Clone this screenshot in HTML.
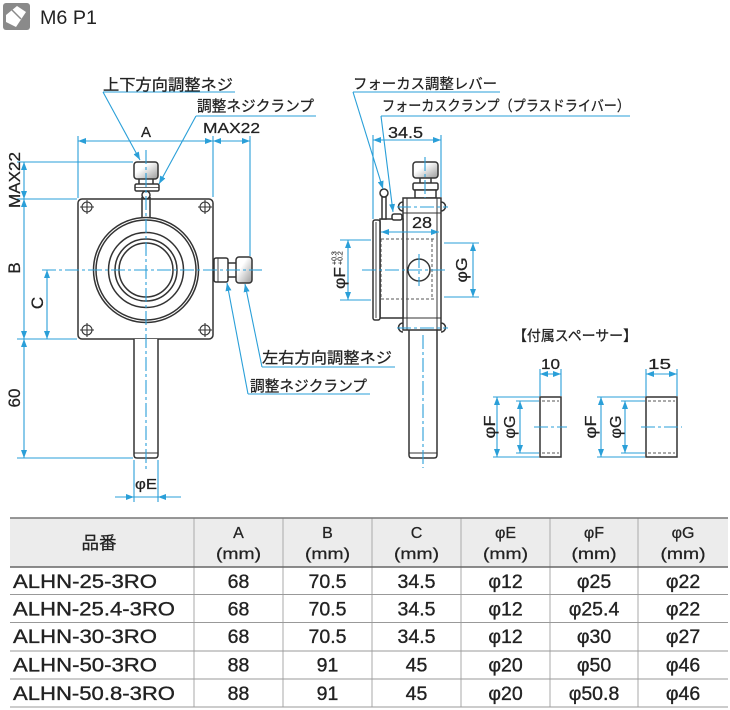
<!DOCTYPE html>
<html><head><meta charset="utf-8"><style>
html,body{margin:0;padding:0;background:#fff;}
svg{display:block;font-family:"Liberation Sans","Noto Sans CJK JP",sans-serif;}
</style></head><body>
<svg width="730" height="710" viewBox="0 0 730 710" xmlns="http://www.w3.org/2000/svg">
<defs>
<marker id="ar" viewBox="0 0 8 6" refX="8" refY="3" markerWidth="8" markerHeight="6" markerUnits="userSpaceOnUse" orient="auto-start-reverse"><path d="M0,0 L8,3 L0,6 z" fill="#2a9fd8"/></marker>
<linearGradient id="kg" x1="0" x2="1" y1="0" y2="1"><stop offset="0.35" stop-color="#fff"/><stop offset="1" stop-color="#9a9a9a"/></linearGradient>
</defs>

<!-- header icon -->
<rect x="3" y="3" width="27" height="27" rx="3" fill="#8a8a8a"/>
<path d="M6,15 L17,6 L26,12 L16,27 L6,22 Z" fill="#fff"/>
<line x1="12" y1="10" x2="21" y2="19" stroke="#8a8a8a" stroke-width="1.5"/>
<text x="40" y="24" font-size="19" fill="#222" textLength="57" lengthAdjust="spacingAndGlyphs">M6 P1</text>

<!-- ============ LEFT VIEW (dark) ============ -->
<g stroke="#333" stroke-width="1.5" fill="#fff">
  <rect x="78" y="199" width="135" height="140" rx="4"/>
  <path d="M134,339 V455 Q134,458 137,458 H155 Q158,458 158,455 V339"/>
  <line x1="134" y1="453" x2="158" y2="453" stroke-width="1"/>
  <path d="M142,197 V219 M150,197 V219" fill="none"/>
  <circle cx="146" cy="195" r="4"/>
  <rect x="134" y="162" width="24" height="17" rx="3" fill="url(#kg)"/>
  <path d="M139,179 V184 M153,179 V184" fill="none"/>
  <rect x="135" y="184" width="24" height="7" rx="1.5"/>
  <line x1="135" y1="187.5" x2="159" y2="187.5" stroke-width="0.8"/>
  <circle cx="146" cy="270" r="52.5"/>
  <circle cx="146" cy="270" r="50" fill="none"/>
  <circle cx="146" cy="270" r="37.5" fill="none"/>
  <circle cx="146" cy="270" r="31" fill="none"/>
  <circle cx="146" cy="270" r="27" fill="none"/>
  <rect x="214" y="258" width="14" height="24" rx="2"/>
  <line x1="218" y1="258" x2="218" y2="282" stroke-width="0.9"/>
  <path d="M228,263 H236 M228,277 H236" fill="none"/>
  <rect x="236" y="257" width="16" height="26" rx="3" fill="url(#kg)"/>
</g>
<g stroke="#333" stroke-width="1.1" fill="none">
  <circle cx="87" cy="207" r="5"/><path d="M80,207 H94 M87,200 V214"/>
  <circle cx="205" cy="207" r="5"/><path d="M198,207 H212 M205,200 V214"/>
  <circle cx="87" cy="330" r="5"/><path d="M80,330 H94 M87,323 V337"/>
  <circle cx="205" cy="330" r="5"/><path d="M198,330 H212 M205,323 V337"/>
</g>

<!-- ============ SIDE VIEW (dark) ============ -->
<g stroke="#333" stroke-width="1.5" fill="#fff">
  <path d="M409,330 V455 Q409,458 412,458 H434 Q437,458 437,455 V330"/>
  <line x1="409" y1="453" x2="437" y2="453" stroke-width="1"/>
  <rect x="413" y="162" width="25" height="16" rx="3" fill="url(#kg)"/>
  <path d="M420,178 V183 M431,178 V183" fill="none"/>
  <rect x="413" y="183" width="25" height="7" rx="1.5"/>
  <rect x="415" y="190" width="21" height="8"/>
  <path d="M403,202 A4,4 0 0 0 403,211 M441,202 A4,4 0 0 1 441,211 M403,323 A4,4 0 0 0 403,332 M441,323 A4,4 0 0 1 441,332"/>
  <rect x="403" y="198" width="38" height="132"/>
  <path d="M407,198 V330 M437,198 V330 M403,213 H441 M403,318 H441" fill="none" stroke-width="1"/>
  <circle cx="419" cy="270" r="11"/>
  <rect x="380" y="219" width="23" height="99"/>
  <rect x="373" y="220" width="7" height="100" rx="2"/>
  <line x1="376" y1="222" x2="376" y2="318" stroke-width="0.9"/>
  <rect x="382" y="197" width="4" height="22"/>
  <circle cx="384" cy="193" r="4"/>
  <rect x="392" y="214" width="10" height="6" rx="2"/>
</g>
<g stroke="#555" stroke-width="1" fill="none" stroke-dasharray="3 2">
  <path d="M381,239 H435 M381,299 H435 M381,239 V299 M432,239 V299"/>
</g>

<!-- ============ SPACERS (dark) ============ -->
<g stroke="#333" stroke-width="1.5" fill="#fff">
  <rect x="540" y="397" width="21" height="60"/>
  <rect x="646" y="397" width="31" height="60"/>
</g>
<g stroke="#555" stroke-width="0.9" fill="none" stroke-dasharray="3 2">
  <path d="M542,401 H559 M542,453 H559 M648,401 H675 M648,453 H675"/>
</g>

<!-- ============ BLUE LINES ============ -->
<g stroke="#2a9fd8" stroke-width="1.1" fill="none">
  <g stroke-dasharray="14 3 3 3">
    <line x1="146" y1="150" x2="146" y2="472"/>
    <line x1="42" y1="270" x2="262" y2="270"/>
    <line x1="362" y1="270" x2="448" y2="270"/>
    <line x1="423" y1="335" x2="423" y2="468"/>
    <line x1="425" y1="157" x2="425" y2="198"/>
    <line x1="419" y1="254" x2="419" y2="286"/>
    <line x1="397" y1="207" x2="448" y2="207"/>
    <line x1="397" y1="328" x2="448" y2="328"/>
    <line x1="534" y1="427" x2="567" y2="427"/>
    <line x1="641" y1="427" x2="682" y2="427"/>
  </g>
  <path d="M78,136 V198 M213,136 V197 M250,136 V256 M17,162 H133 M17,199 H77 M17,339 H77 M17,458 H133 M134,460 V502 M158,460 V502"/>
  <line x1="78" y1="141" x2="213" y2="141" marker-start="url(#ar)" marker-end="url(#ar)"/>
  <line x1="213" y1="141" x2="250" y2="141" marker-start="url(#ar)" marker-end="url(#ar)"/>
  <line x1="24" y1="162" x2="24" y2="199" marker-start="url(#ar)" marker-end="url(#ar)"/>
  <line x1="24" y1="199" x2="24" y2="339" marker-start="url(#ar)" marker-end="url(#ar)"/>
  <line x1="24" y1="339" x2="24" y2="458" marker-start="url(#ar)" marker-end="url(#ar)"/>
  <line x1="47" y1="270" x2="47" y2="339" marker-start="url(#ar)" marker-end="url(#ar)"/>
  <line x1="115" y1="497" x2="134" y2="497" marker-end="url(#ar)"/>
  <line x1="181" y1="497" x2="158" y2="497" marker-end="url(#ar)"/>
  <line x1="134" y1="497" x2="158" y2="497"/>
  <path d="M103,92 H235 M196,116 H316 M262,367 H395 M248,394 H370"/>
  <line x1="103" y1="92" x2="140" y2="160" marker-end="url(#ar)"/>
  <line x1="196" y1="116" x2="159" y2="184" marker-end="url(#ar)"/>
  <line x1="262" y1="367" x2="245" y2="284" marker-end="url(#ar)"/>
  <line x1="248" y1="394" x2="227" y2="283" marker-end="url(#ar)"/>
  <path d="M373,135 V219 M441,135 V197 M340,240 H371 M340,300 H371 M444,243 H479 M444,297 H479"/>
  <line x1="373" y1="140" x2="441" y2="140" marker-start="url(#ar)" marker-end="url(#ar)"/>
  <line x1="381" y1="232" x2="439" y2="232" marker-start="url(#ar)" marker-end="url(#ar)"/>
  <line x1="348" y1="240" x2="348" y2="300" marker-start="url(#ar)" marker-end="url(#ar)"/>
  <line x1="473" y1="243" x2="473" y2="297" marker-start="url(#ar)" marker-end="url(#ar)"/>
  <path d="M353,92 H500 M381,116 H630"/>
  <line x1="353" y1="92" x2="383" y2="189" marker-end="url(#ar)"/>
  <line x1="381" y1="116" x2="393" y2="212" marker-end="url(#ar)"/>
  <path d="M540,369 V396 M561,369 V396 M646,369 V396 M677,369 V396 M493,397 H539 M493,457 H539 M516,401 H539 M516,453 H539 M597,397 H645 M597,457 H645 M621,401 H645 M621,453 H645"/>
  <line x1="540" y1="374" x2="561" y2="374" marker-start="url(#ar)" marker-end="url(#ar)"/>
  <line x1="646" y1="374" x2="677" y2="374" marker-start="url(#ar)" marker-end="url(#ar)"/>
  <line x1="497" y1="397" x2="497" y2="457" marker-start="url(#ar)" marker-end="url(#ar)"/>
  <line x1="520" y1="401" x2="520" y2="453" marker-start="url(#ar)" marker-end="url(#ar)"/>
  <line x1="601" y1="397" x2="601" y2="457" marker-start="url(#ar)" marker-end="url(#ar)"/>
  <line x1="625" y1="401" x2="625" y2="453" marker-start="url(#ar)" marker-end="url(#ar)"/>
</g>

<!-- ============ LABELS ============ -->
<g fill="#222" stroke="#222" stroke-width="0.25">
  <text x="103" y="90" font-size="15.5" textLength="130" lengthAdjust="spacingAndGlyphs">上下方向調整ネジ</text>
  <text x="197" y="111" font-size="15" textLength="117" lengthAdjust="spacingAndGlyphs">調整ネジクランプ</text>
  <text x="262" y="363" font-size="15.5" textLength="130" lengthAdjust="spacingAndGlyphs">左右方向調整ネジ</text>
  <text x="250" y="391" font-size="15" textLength="117" lengthAdjust="spacingAndGlyphs">調整ネジクランプ</text>
  <text x="353" y="89" font-size="14.5" textLength="144" lengthAdjust="spacingAndGlyphs">フォーカス調整レバー</text>
  <text x="382" y="111" font-size="14.5" textLength="248" lengthAdjust="spacingAndGlyphs">フォーカスクランプ（プラスドライバー）</text>
  <text x="513" y="341" font-size="14.5" textLength="124" lengthAdjust="spacingAndGlyphs">【付属スペーサー】</text>

  <text x="146" y="137" font-size="15" text-anchor="middle">A</text>
  <text x="203" y="133" font-size="15" textLength="57" lengthAdjust="spacingAndGlyphs">MAX22</text>
  <text x="388" y="138" font-size="15.5" textLength="35" lengthAdjust="spacingAndGlyphs">34.5</text>
  <text x="412" y="228" font-size="16" textLength="20" lengthAdjust="spacingAndGlyphs">28</text>
  <text x="135" y="489" font-size="15" textLength="22" lengthAdjust="spacingAndGlyphs">φE</text>
  <text x="541" y="369" font-size="15" textLength="19" lengthAdjust="spacingAndGlyphs">10</text>
  <text x="648" y="369" font-size="15" textLength="23" lengthAdjust="spacingAndGlyphs">15</text>

  <text transform="translate(20,180) rotate(-90)" font-size="16" text-anchor="middle" textLength="56" lengthAdjust="spacingAndGlyphs">MAX22</text>
  <text transform="translate(20,268) rotate(-90)" font-size="17" text-anchor="middle">B</text>
  <text transform="translate(43,303) rotate(-90)" font-size="17" text-anchor="middle">C</text>
  <text transform="translate(20,398) rotate(-90)" font-size="17" text-anchor="middle">60</text>

  <g transform="translate(345,289) rotate(-90)">
    <text x="0" y="0" font-size="16" textLength="22" lengthAdjust="spacingAndGlyphs">φF</text>
    <text x="24" y="-8.3" font-size="7" stroke-width="0.1">+0.3</text>
    <text x="24" y="-2.3" font-size="7" stroke-width="0.1">+0.2</text>
  </g>
  <text transform="translate(467,270) rotate(-90)" font-size="16" text-anchor="middle" textLength="25" lengthAdjust="spacingAndGlyphs">φG</text>
  <text transform="translate(495,427) rotate(-90)" font-size="15.5" text-anchor="middle" textLength="23" lengthAdjust="spacingAndGlyphs">φF</text>
  <text transform="translate(515,427) rotate(-90)" font-size="15.5" text-anchor="middle" textLength="23" lengthAdjust="spacingAndGlyphs">φG</text>
  <text transform="translate(596,427) rotate(-90)" font-size="15.5" text-anchor="middle" textLength="23" lengthAdjust="spacingAndGlyphs">φF</text>
  <text transform="translate(621,427) rotate(-90)" font-size="15.5" text-anchor="middle" textLength="23" lengthAdjust="spacingAndGlyphs">φG</text>
</g>

<!-- ============ TABLE ============ -->
<rect x="10" y="518" width="718" height="49" fill="#ececec"/>
<g stroke="#aaa" stroke-width="1">
  <path d="M194,518 V707 M283,518 V707 M372,518 V707 M461,518 V707 M550,518 V707 M638,518 V707"/>
</g>
<g stroke="#999" stroke-width="1">
  <path d="M10,594.5 H728 M10,622.5 H728 M10,651 H728 M10,679 H728 M10,707 H728"/>
</g>
<line x1="10" y1="518" x2="728" y2="518" stroke="#777" stroke-width="1.5"/>
<line x1="10" y1="567" x2="728" y2="567" stroke="#666" stroke-width="1.5"/>

<g fill="#222" stroke="#222" stroke-width="0.25" text-anchor="middle">
  <text x="99" y="549" font-size="17.5">品番</text>
  <text x="238.5" y="538" font-size="16">A</text>
  <text x="327.5" y="538" font-size="16">B</text>
  <text x="416.5" y="538" font-size="16">C</text>
  <text x="505.5" y="538" font-size="16">φE</text>
  <text x="594" y="538" font-size="16">φF</text>
  <text x="683" y="538" font-size="16">φG</text>
  <g font-size="16">
    <text x="238.5" y="559" textLength="45" lengthAdjust="spacingAndGlyphs">(mm)</text>
    <text x="327.5" y="559" textLength="45" lengthAdjust="spacingAndGlyphs">(mm)</text>
    <text x="416.5" y="559" textLength="45" lengthAdjust="spacingAndGlyphs">(mm)</text>
    <text x="505.5" y="559" textLength="45" lengthAdjust="spacingAndGlyphs">(mm)</text>
    <text x="594" y="559" textLength="45" lengthAdjust="spacingAndGlyphs">(mm)</text>
    <text x="683" y="559" textLength="45" lengthAdjust="spacingAndGlyphs">(mm)</text>
  </g>
</g>

<g fill="#222" stroke="#222" stroke-width="0.35" font-size="19.5">
  <text x="13" y="588" textLength="144" lengthAdjust="spacingAndGlyphs">ALHN-25-3RO</text>
  <text x="13" y="615.5" textLength="162" lengthAdjust="spacingAndGlyphs">ALHN-25.4-3RO</text>
  <text x="13" y="643" textLength="144" lengthAdjust="spacingAndGlyphs">ALHN-30-3RO</text>
  <text x="13" y="671.5" textLength="144" lengthAdjust="spacingAndGlyphs">ALHN-50-3RO</text>
  <text x="13" y="700" textLength="162" lengthAdjust="spacingAndGlyphs">ALHN-50.8-3RO</text>
  <g text-anchor="middle">
    <text x="238.5" y="588">68</text><text x="327.5" y="588">70.5</text><text x="416.5" y="588">34.5</text><text x="505.5" y="588">φ12</text><text x="594" y="588">φ25</text><text x="683" y="588">φ22</text>
    <text x="238.5" y="615.5">68</text><text x="327.5" y="615.5">70.5</text><text x="416.5" y="615.5">34.5</text><text x="505.5" y="615.5">φ12</text><text x="594" y="615.5">φ25.4</text><text x="683" y="615.5">φ22</text>
    <text x="238.5" y="643">68</text><text x="327.5" y="643">70.5</text><text x="416.5" y="643">34.5</text><text x="505.5" y="643">φ12</text><text x="594" y="643">φ30</text><text x="683" y="643">φ27</text>
    <text x="238.5" y="671.5">88</text><text x="327.5" y="671.5">91</text><text x="416.5" y="671.5">45</text><text x="505.5" y="671.5">φ20</text><text x="594" y="671.5">φ50</text><text x="683" y="671.5">φ46</text>
    <text x="238.5" y="700">88</text><text x="327.5" y="700">91</text><text x="416.5" y="700">45</text><text x="505.5" y="700">φ20</text><text x="594" y="700">φ50.8</text><text x="683" y="700">φ46</text>
  </g>
</g>
</svg>
</body></html>
